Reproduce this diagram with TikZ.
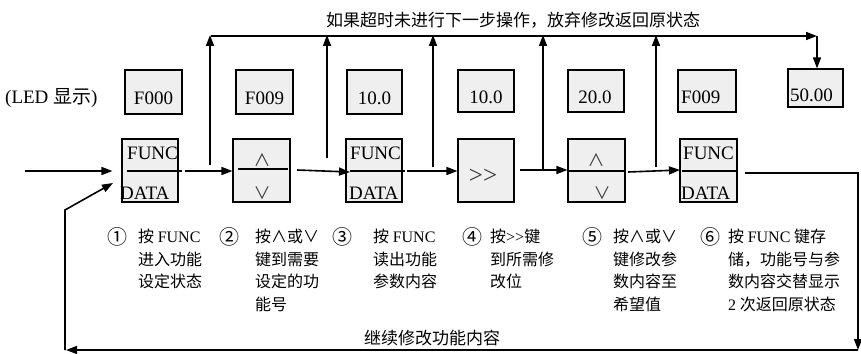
\documentclass[tikz,border=0pt]{standalone}
\usepackage{fontspec}
\setmainfont{Liberation Serif}
\newfontfamily\cjk{Noto Sans CJK SC}
\newfontfamily\plainserif{Liberation Serif}
\usetikzlibrary{arrows.meta}
\definecolor{boxfill}{HTML}{EFEFEF}
\begin{document}
\begin{tikzpicture}[x=1pt,y=-1pt,
  keybox/.style={draw,line width=1.1pt,fill=boxfill,minimum width=56pt,minimum height=63pt,inner sep=0pt},
  ledbox/.style={draw,line width=1.1pt,fill=boxfill,minimum width=56pt,minimum height=44pt,inner sep=0pt},
  latin/.style={inner sep=0pt,font=\fontsize{19}{19}\selectfont},
  symb/.style={inner sep=0pt,font=\cjk\fontsize{17}{17}\selectfont\color{black!75}},
  divider/.style={line width=1.5pt},
  flow/.style={line width=1.6pt,-{Triangle[length=11pt,width=8pt]}},
  stepnum/.style={inner sep=0pt,anchor=center,font=\cjk\fontsize{20}{22}\selectfont},
  steptxt/.style={inner sep=0pt,anchor=north west,align=left,font=\cjk\fontsize{16}{22.5}\selectfont},
  note/.style={inner sep=0pt,font=\cjk\fontsize{17}{17}\selectfont}]
\useasboundingbox (0,0) rectangle (861,353);

% LED row
\node[latin,anchor=west] (ledlabel) at (5,98) {(LED {\cjk 显示})};
\node[ledbox,minimum width=57pt] (l1) at (153.5,92) {};
\node[latin] (l1t) at (153.5,98) {F000};
\node[ledbox,minimum width=57pt] (l2) at (264.5,92) {};
\node[latin] (l2t) at (264.5,98) {F009};
\node[ledbox,minimum width=55pt] (l3) at (374.5,92) {};
\node[latin] (l3t) at (374.5,98) {10.0};
\node[ledbox,minimum width=56pt,minimum height=42pt] (l4) at (486,91) {};
\node[latin] (l4t) at (486,97) {10.0};
\node[ledbox,minimum width=56pt,minimum height=42pt] (l5) at (596,91) {};
\node[latin] (l5t) at (595,97) {20.0};
\node[ledbox,minimum width=58pt,minimum height=42pt] (l6) at (707,91) {};
\node[latin,anchor=west] (l6t) at (681,97) {F009};
\node[ledbox,minimum width=55pt,minimum height=38pt] (l7) at (815.5,88) {};
\node[latin,anchor=west] (l7t) at (790,95) {50.00};

% key boxes
\node[keybox] (k1) at (150,170.5) {};
\node[keybox,minimum width=57pt] (k2) at (261.5,170.5) {};
\node[keybox] (k3) at (374,170.5) {};
\node[keybox] (k4) at (486,170.5) {};
\node[keybox,minimum width=57pt] (k5) at (596.5,170.5) {};
\node[keybox,minimum width=57pt] (k6) at (708.5,170.5) {};

\draw[divider] (127,171) -- (182,171);
\draw[divider] (238,169) -- (288,169);
\draw[divider] (350,171) -- (405,171);
\draw[divider] (568,171) -- (625,171);
\draw[divider] (682,171) -- (737,171);

\node[latin,anchor=west] (k1a) at (127,153) {FUNC};
\node[latin,anchor=west] (k1b) at (120,193) {DATA};
\node[symb] (k2a) at (262,160) {∧};
\node[symb] (k2b) at (262,193) {∨};
\node[latin,anchor=west] (k3a) at (350,153) {FUNC};
\node[latin,anchor=west] (k3b) at (349,193) {DATA};
\node[inner sep=0pt,font=\plainserif\fontsize{25}{25}\selectfont\color{black!80}] (k4a) at (483,176) {>>};
\node[symb] (k5a) at (596,160) {∧};
\node[symb] (k5b) at (602,193) {∨};
\node[latin,anchor=west] (k6a) at (683,153) {FUNC};
\node[latin,anchor=west] (k6b) at (681,193) {DATA};

% main flow
\coordinate (in) at (25,171);
\draw[flow] (in) -- ([xshift=-9pt]k1.west |- in);
\draw[flow] (185,171) -- (k2.west |- 0,171);
\draw[flow] (297,170) -- (350,172);
\draw[flow] (407,171) -- (k4.west |- 0,171);
\draw[flow] (520,170) -- (k5.west |- 0,170);
\draw[flow] (628,172) -- (680,170);

% return loop
\coordinate (o1) at (745,173);
\coordinate (o2) at (858,350);
\coordinate (o3) at (65,350);
\coordinate (o4) at (65,210);
\draw[flow] (o1) -| (o2);
\draw[flow] (o2) -- ([xshift=1pt]o3);
\draw[flow] (o3) -- (o4) -- (113,183);

% timeout line
\coordinate (t0) at (210,36);
\coordinate (t1) at (817,36);
\draw[flow] (211,36) -- (t1);
\draw[flow] (t1) -- (l7.north -| t1);
\draw[flow] (210,165) -- (210,35);
\draw[flow] (327,158) -- (327,35);
\draw[flow] (433,167) -- (433,35);
\draw[flow] (543,170) -- (543,35);
\draw[flow] (656,167) -- (656,35);

% notes
\node[note] (top) at (513,20) {如果超时未进行下一步操作，放弃修改返回原状态};
\node[note] (bottom) at (432,338) {继续修改功能内容};

% steps
\node[stepnum] (n1) at (117.5,237) {①};
\node[steptxt] (s1) at (138,229) {按 {\plainserif FUNC}\\进入功能\\设定状态};
\node[stepnum] (n2) at (229.5,237) {②};
\node[steptxt] (s2) at (255,229) {按∧或∨\\键到需要\\设定的功\\能号};
\node[stepnum] (n3) at (342.5,237) {③};
\node[steptxt] (s3) at (373,229) {按 {\plainserif FUNC}\\读出功能\\参数内容};
\node[stepnum] (n4) at (472.5,237) {④};
\node[steptxt] (s4) at (490,229) {按{\plainserif >>}键\\到所需修\\改位};
\node[stepnum] (n5) at (592.5,237) {⑤};
\node[steptxt] (s5) at (613,229) {按∧或∨\\键修改参\\数内容至\\希望值};
\node[stepnum] (n6) at (710.5,237) {⑥};
\node[steptxt] (s6) at (728,229) {按 {\plainserif FUNC} 键存\\储，功能号与参\\数内容交替显示\\{\plainserif 2} 次返回原状态};
\end{tikzpicture}
\end{document}
